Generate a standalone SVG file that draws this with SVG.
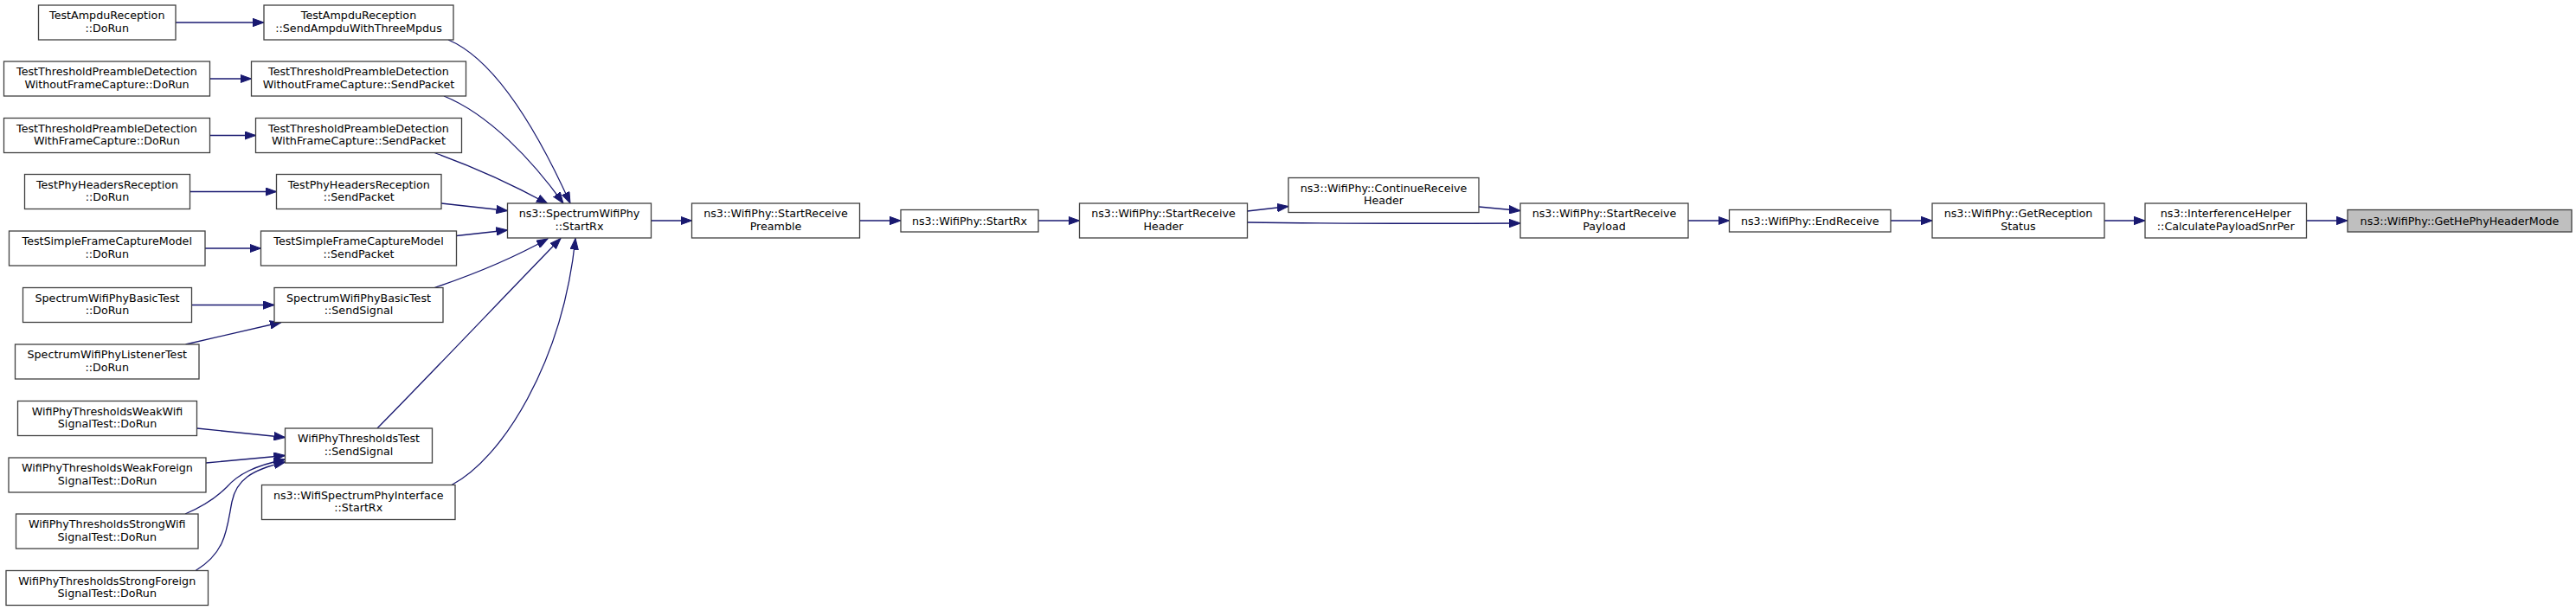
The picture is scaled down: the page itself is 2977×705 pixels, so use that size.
<svg xmlns="http://www.w3.org/2000/svg" width="2977" height="705" viewBox="0 0 2977 705">
<style>
.node rect{fill:#ffffff;stroke:#404040;stroke-width:1.3}
.node.sel rect{fill:#bfbfbf}
.node text{font-family:"DejaVu Sans","Liberation Sans",sans-serif;font-size:12.7px;fill:#000000;text-anchor:middle}
#edges path{fill:none;stroke:#191970;stroke-width:1.3;marker-end:url(#ah)}
</style>
<defs>
<marker id="ah" markerUnits="userSpaceOnUse" markerWidth="14" markerHeight="10" refX="13" refY="5" orient="auto" viewBox="0 0 14 10">
<path d="M0,0.3 L13,5 L0,9.7 z" fill="#191970" stroke="#191970" stroke-width="1"/>
</marker>
</defs>
<rect width="2977" height="705" fill="#ffffff"/>
<g id="edges">
<path d="M203,26 L305,26"/>
<path d="M242.5,91 L290.5,91"/>
<path d="M242.5,156.5 L295.5,156.5"/>
<path d="M219.5,221.5 L319.5,221.5"/>
<path d="M237,287 L301.5,287"/>
<path d="M221.5,352.5 L317,352.5"/>
<path d="M214.5,398 L325,372.5"/>
<path d="M227.5,495 L329.5,505.5"/>
<path d="M238,535 L329.5,526.5"/>
<path d="M214,594 C235,585 250,575 262,563 C275,548 295,538 329.5,531"/>
<path d="M226,659.5 C262,638 262,610 268,580 C273,555 290,543 329.5,534"/>
<path d="M518,46 C575,70 625,160 659,235"/>
<path d="M513,111 C565,132 615,185 651,235"/>
<path d="M502,176.5 C545,192 590,212 633,235.5"/>
<path d="M510,235 L586.5,243.5"/>
<path d="M527.5,272.5 L586.5,266"/>
<path d="M502,332.5 C545,318 590,300 633,276"/>
<path d="M436,495 C500,430 590,335 648,275.5"/>
<path d="M522,560.5 C580,530 650,420 665,275.5"/>
<path d="M752.5,255 L799.5,255"/>
<path d="M993.5,255 L1041,255"/>
<path d="M1200,255 L1247.5,255"/>
<path d="M1441.5,244 L1489,238.5"/>
<path d="M1441.5,257 C1550,258.5 1650,258.5 1757,258"/>
<path d="M1709,239 L1757,243.5"/>
<path d="M1951,255 L1998.5,255"/>
<path d="M2185,255 L2233,255"/>
<path d="M2432,255 L2479,255"/>
<path d="M2665.5,255 L2713,255"/>
</g>
<g id="n_ampdu_dorun" class="node"><rect x="44.5" y="6" width="158.5" height="40"/><text x="123.75" y="22">TestAmpduReception</text><text x="123.75" y="36.7">::DoRun</text></g>
<g id="n_ampdu_send" class="node"><rect x="305" y="6" width="219" height="40"/><text x="414.5" y="22">TestAmpduReception</text><text x="414.5" y="36.7">::SendAmpduWithThreeMpdus</text></g>
<g id="n_without_dorun" class="node"><rect x="4.5" y="71" width="238" height="40"/><text x="123.5" y="87">TestThresholdPreambleDetection</text><text x="123.5" y="101.7">WithoutFrameCapture::DoRun</text></g>
<g id="n_without_send" class="node"><rect x="290.5" y="71" width="248" height="40"/><text x="414.5" y="87">TestThresholdPreambleDetection</text><text x="414.5" y="101.7">WithoutFrameCapture::SendPacket</text></g>
<g id="n_with_dorun" class="node"><rect x="4.5" y="136.5" width="238" height="40"/><text x="123.5" y="152.5">TestThresholdPreambleDetection</text><text x="123.5" y="167.2">WithFrameCapture::DoRun</text></g>
<g id="n_with_send" class="node"><rect x="295.5" y="136.5" width="238" height="40"/><text x="414.5" y="152.5">TestThresholdPreambleDetection</text><text x="414.5" y="167.2">WithFrameCapture::SendPacket</text></g>
<g id="n_phyhdr_dorun" class="node"><rect x="28.5" y="201.5" width="191" height="40"/><text x="124" y="217.5">TestPhyHeadersReception</text><text x="124" y="232.2">::DoRun</text></g>
<g id="n_phyhdr_send" class="node"><rect x="319.5" y="201.5" width="190.5" height="40"/><text x="414.75" y="217.5">TestPhyHeadersReception</text><text x="414.75" y="232.2">::SendPacket</text></g>
<g id="n_sfcm_dorun" class="node"><rect x="10.5" y="267" width="226.5" height="40"/><text x="123.75" y="283">TestSimpleFrameCaptureModel</text><text x="123.75" y="297.7">::DoRun</text></g>
<g id="n_sfcm_send" class="node"><rect x="301.5" y="267" width="226" height="40"/><text x="414.5" y="283">TestSimpleFrameCaptureModel</text><text x="414.5" y="297.7">::SendPacket</text></g>
<g id="n_basic_dorun" class="node"><rect x="26.5" y="332.5" width="195" height="40"/><text x="124" y="348.5">SpectrumWifiPhyBasicTest</text><text x="124" y="363.2">::DoRun</text></g>
<g id="n_basic_send" class="node"><rect x="317" y="332.5" width="195" height="40"/><text x="414.5" y="348.5">SpectrumWifiPhyBasicTest</text><text x="414.5" y="363.2">::SendSignal</text></g>
<g id="n_listener_dorun" class="node"><rect x="17.5" y="398" width="212.5" height="40"/><text x="123.75" y="414">SpectrumWifiPhyListenerTest</text><text x="123.75" y="428.7">::DoRun</text></g>
<g id="n_weakwifi" class="node"><rect x="20.5" y="463.5" width="207" height="40"/><text x="124" y="479.5">WifiPhyThresholdsWeakWifi</text><text x="124" y="494.2">SignalTest::DoRun</text></g>
<g id="n_weakforeign" class="node"><rect x="10" y="529" width="228" height="40"/><text x="124" y="545">WifiPhyThresholdsWeakForeign</text><text x="124" y="559.7">SignalTest::DoRun</text></g>
<g id="n_strongwifi" class="node"><rect x="18.5" y="594" width="210.5" height="40"/><text x="123.75" y="610">WifiPhyThresholdsStrongWifi</text><text x="123.75" y="624.7">SignalTest::DoRun</text></g>
<g id="n_strongforeign" class="node"><rect x="7" y="659.5" width="233.5" height="40"/><text x="123.75" y="675.5">WifiPhyThresholdsStrongForeign</text><text x="123.75" y="690.2">SignalTest::DoRun</text></g>
<g id="n_thresh_send" class="node"><rect x="329.5" y="495" width="170" height="40"/><text x="414.5" y="511">WifiPhyThresholdsTest</text><text x="414.5" y="525.7">::SendSignal</text></g>
<g id="n_wspi_startrx" class="node"><rect x="302.5" y="560.5" width="223.5" height="40"/><text x="414.25" y="576.5">ns3::WifiSpectrumPhyInterface</text><text x="414.25" y="591.2">::StartRx</text></g>
<g id="n_swp_startrx" class="node"><rect x="586.5" y="235" width="166" height="40"/><text x="669.5" y="251">ns3::SpectrumWifiPhy</text><text x="669.5" y="265.7">::StartRx</text></g>
<g id="n_preamble" class="node"><rect x="799.5" y="235" width="194" height="40"/><text x="896.5" y="251">ns3::WifiPhy::StartReceive</text><text x="896.5" y="265.7">Preamble</text></g>
<g id="n_wp_startrx" class="node"><rect x="1041" y="242.5" width="159" height="25.5"/><text x="1120.5" y="259.5">ns3::WifiPhy::StartRx</text></g>
<g id="n_header" class="node"><rect x="1247.5" y="235" width="194" height="40"/><text x="1344.5" y="251">ns3::WifiPhy::StartReceive</text><text x="1344.5" y="265.7">Header</text></g>
<g id="n_continue" class="node"><rect x="1489" y="205.5" width="220" height="40"/><text x="1599" y="221.5">ns3::WifiPhy::ContinueReceive</text><text x="1599" y="236.2">Header</text></g>
<g id="n_payload" class="node"><rect x="1757" y="235" width="194" height="40"/><text x="1854" y="251">ns3::WifiPhy::StartReceive</text><text x="1854" y="265.7">Payload</text></g>
<g id="n_endreceive" class="node"><rect x="1998.5" y="242.5" width="186.5" height="25.5"/><text x="2091.75" y="259.5">ns3::WifiPhy::EndReceive</text></g>
<g id="n_getreception" class="node"><rect x="2233" y="235" width="199" height="40"/><text x="2332.5" y="251">ns3::WifiPhy::GetReception</text><text x="2332.5" y="265.7">Status</text></g>
<g id="n_calcsnr" class="node"><rect x="2479" y="235" width="186.5" height="40"/><text x="2572.25" y="251">ns3::InterferenceHelper</text><text x="2572.25" y="265.7">::CalculatePayloadSnrPer</text></g>
<g id="n_gethephy" class="node sel"><rect x="2713" y="242.5" width="259" height="25.5"/><text x="2842.5" y="259.5">ns3::WifiPhy::GetHePhyHeaderMode</text></g>
</svg>
